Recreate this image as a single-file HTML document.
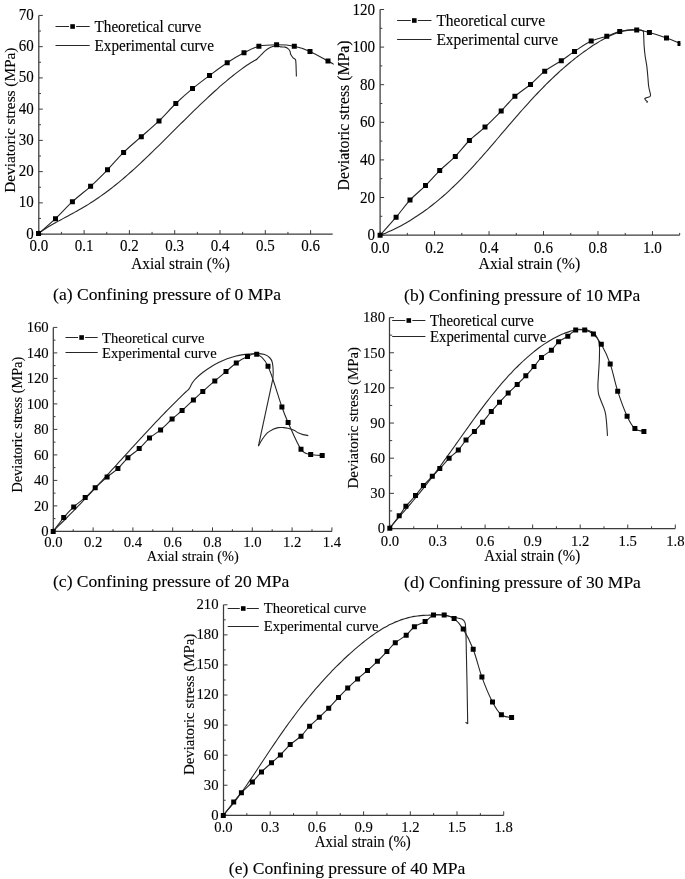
<!DOCTYPE html>
<html><head><meta charset="utf-8"><title>Figure</title>
<style>
html,body{margin:0;padding:0;background:#fff;overflow:hidden;width:685px;height:879px;}
svg{display:block;will-change:transform;}
text{font-family:"Liberation Serif", serif;fill:#000;stroke:#000;stroke-width:0.12px;}
</style></head>
<body>
<svg width="685" height="879" viewBox="0 0 685 879">
<rect width="685" height="879" fill="#fff"/>
<path d="M38.8 15.42 V234.1 H332.7" fill="none" stroke="#3c3c3c" stroke-width="1.25"/>
<path d="M38.8 234.1 v-4 M61.45 234.1 v-2.2 M84.1 234.1 v-4 M106.75 234.1 v-2.2 M129.4 234.1 v-4 M152.05 234.1 v-2.2 M174.7 234.1 v-4 M197.35 234.1 v-2.2 M220 234.1 v-4 M242.65 234.1 v-2.2 M265.3 234.1 v-4 M287.95 234.1 v-2.2 M310.6 234.1 v-4 M38.8 234.1 h4 M38.8 218.48 h2.2 M38.8 202.86 h4 M38.8 187.24 h2.2 M38.8 171.62 h4 M38.8 156 h2.2 M38.8 140.38 h4 M38.8 124.76 h2.2 M38.8 109.14 h4 M38.8 93.52 h2.2 M38.8 77.9 h4 M38.8 62.28 h2.2 M38.8 46.66 h4 M38.8 31.04 h2.2 M38.8 15.42 h4" fill="none" stroke="#3c3c3c" stroke-width="1.0"/>
<text transform="translate(33.7 238.6) scale(1 1.06)" text-anchor="end" font-size="15">0</text>
<text transform="translate(33.7 207.36) scale(1 1.06)" text-anchor="end" font-size="15">10</text>
<text transform="translate(33.7 176.12) scale(1 1.06)" text-anchor="end" font-size="15">20</text>
<text transform="translate(33.7 144.88) scale(1 1.06)" text-anchor="end" font-size="15">30</text>
<text transform="translate(33.7 113.64) scale(1 1.06)" text-anchor="end" font-size="15">40</text>
<text transform="translate(33.7 82.4) scale(1 1.06)" text-anchor="end" font-size="15">50</text>
<text transform="translate(33.7 51.16) scale(1 1.06)" text-anchor="end" font-size="15">60</text>
<text transform="translate(33.7 19.92) scale(1 1.06)" text-anchor="end" font-size="15">70</text>
<text transform="translate(38.8 251.2) scale(1 1.06)" text-anchor="middle" font-size="15">0.0</text>
<text transform="translate(84.1 251.2) scale(1 1.06)" text-anchor="middle" font-size="15">0.1</text>
<text transform="translate(129.4 251.2) scale(1 1.06)" text-anchor="middle" font-size="15">0.2</text>
<text transform="translate(174.7 251.2) scale(1 1.06)" text-anchor="middle" font-size="15">0.3</text>
<text transform="translate(220 251.2) scale(1 1.06)" text-anchor="middle" font-size="15">0.4</text>
<text transform="translate(265.3 251.2) scale(1 1.06)" text-anchor="middle" font-size="15">0.5</text>
<text transform="translate(310.6 251.2) scale(1 1.06)" text-anchor="middle" font-size="15">0.6</text>
<text transform="translate(180.5 269) scale(1 1.06)" text-anchor="middle" font-size="15.3">Axial strain (%)</text>
<text transform="translate(14.6 120.2) rotate(-90) scale(1 1.0)" text-anchor="middle" font-size="15.3">Deviatoric stress (MPa)</text>
<path d="M55.5 26.5 H69.1 M76.1 26.5 H89.7 M55.5 45.5 H89.7" stroke="#262626" stroke-width="1" fill="none"/>
<rect x="70.3" y="24.2" width="4.6" height="4.6" fill="#000"/>
<text transform="translate(94.5 31.6) scale(1 1.06)" font-size="15.2">Theoretical curve</text>
<text transform="translate(94.5 50.6) scale(1 1.06)" font-size="15.2">Experimental curve</text>
<clipPath id="clipa"><rect x="34.8" y="9.42" width="298.9" height="228.68"/></clipPath>
<g clip-path="url(#clipa)" fill="none" stroke="#262626" stroke-width="1.1" stroke-linejoin="round">
<path d="M38.6 233.31 C39.1 232.96 40.6 231.87 41.59 231.18 C42.59 230.49 43.59 229.83 44.59 229.18 C45.58 228.54 46.58 227.91 47.58 227.3 C48.58 226.69 49.57 226.09 50.57 225.51 C51.57 224.92 52.57 224.35 53.57 223.78 C54.56 223.22 55.56 222.66 56.56 222.11 C57.56 221.56 58.55 221.02 59.55 220.48 C60.55 219.94 61.55 219.4 62.55 218.86 C63.54 218.33 64.54 217.8 65.54 217.26 C66.54 216.73 67.53 216.19 68.53 215.65 C69.53 215.12 70.53 214.58 71.52 214.04 C72.52 213.49 73.52 212.95 74.52 212.39 C75.52 211.84 76.51 211.29 77.51 210.72 C78.51 210.16 79.51 209.59 80.5 209.01 C81.5 208.43 82.5 207.85 83.5 207.26 C84.49 206.67 85.49 206.07 86.49 205.46 C87.49 204.85 88.49 204.23 89.48 203.6 C90.48 202.98 91.48 202.34 92.48 201.7 C93.47 201.05 94.47 200.39 95.47 199.73 C96.47 199.06 97.47 198.39 98.46 197.7 C99.46 197.02 100.46 196.32 101.46 195.61 C102.45 194.91 103.45 194.19 104.45 193.46 C105.45 192.74 106.44 192 107.44 191.25 C108.44 190.51 109.44 189.75 110.44 188.98 C111.43 188.21 112.43 187.44 113.43 186.65 C114.43 185.86 115.42 185.07 116.42 184.26 C117.42 183.45 118.42 182.64 119.42 181.81 C120.41 180.99 121.41 180.16 122.41 179.31 C123.41 178.47 124.4 177.62 125.4 176.76 C126.4 175.9 127.4 175.03 128.39 174.15 C129.39 173.28 130.39 172.39 131.39 171.5 C132.39 170.61 133.38 169.71 134.38 168.81 C135.38 167.9 136.38 166.99 137.37 166.07 C138.37 165.15 139.37 164.22 140.37 163.29 C141.36 162.36 142.36 161.42 143.36 160.48 C144.36 159.54 145.36 158.59 146.35 157.64 C147.35 156.69 148.35 155.73 149.35 154.77 C150.34 153.81 151.34 152.84 152.34 151.87 C153.34 150.9 154.34 149.93 155.33 148.95 C156.33 147.98 157.33 147 158.33 146.02 C159.32 145.04 160.32 144.05 161.32 143.07 C162.32 142.08 163.31 141.09 164.31 140.1 C165.31 139.11 166.31 138.12 167.31 137.13 C168.3 136.14 169.3 135.14 170.3 134.15 C171.3 133.16 172.29 132.16 173.29 131.17 C174.29 130.18 175.29 129.18 176.28 128.19 C177.28 127.2 178.28 126.2 179.28 125.21 C180.28 124.22 181.27 123.23 182.27 122.24 C183.27 121.25 184.27 120.26 185.26 119.28 C186.26 118.29 187.26 117.31 188.26 116.33 C189.26 115.35 190.25 114.37 191.25 113.39 C192.25 112.42 193.25 111.45 194.24 110.48 C195.24 109.51 196.24 108.54 197.24 107.58 C198.23 106.62 199.23 105.66 200.23 104.7 C201.23 103.75 202.23 102.8 203.22 101.85 C204.22 100.91 205.22 99.97 206.22 99.03 C207.21 98.1 208.21 97.17 209.21 96.25 C210.21 95.32 211.21 94.4 212.2 93.49 C213.2 92.58 214.2 91.67 215.2 90.77 C216.19 89.87 217.19 88.98 218.19 88.1 C219.19 87.21 220.18 86.33 221.18 85.46 C222.18 84.59 223.18 83.73 224.18 82.88 C225.17 82.03 226.17 81.18 227.17 80.35 C228.17 79.51 229.16 78.69 230.16 77.87 C231.16 77.05 232.16 76.25 233.15 75.45 C234.15 74.66 235.15 73.87 236.15 73.1 C237.15 72.33 238.14 71.57 239.14 70.82 C240.14 70.07 241.14 69.34 242.13 68.61 C243.13 67.89 244.13 67.18 245.13 66.49 C246.13 65.8 247.12 65.12 248.12 64.46 C249.12 63.8 250.12 63.15 251.11 62.52 C252.11 61.89 253.11 61.28 254.11 60.69 C255.1 60.1 255.93 59.94 257.1 58.97 C258.27 58.01 259.75 56.26 261.1 54.9 C262.45 53.54 263.85 51.95 265.2 50.8 C266.55 49.65 267.87 48.73 269.2 48 C270.53 47.27 271.97 46.82 273.2 46.4 C274.43 45.98 275.32 45.42 276.6 45.5 C277.88 45.58 279.5 46.63 280.9 46.9 C282.3 47.17 283.82 46.82 285 47.1 C286.18 47.38 287.17 47.92 288 48.6 C288.83 49.28 289.53 50.2 290 51.2 C290.47 52.2 290.28 53.5 290.8 54.6 C291.32 55.7 292.32 56.93 293.1 57.8 C293.88 58.67 295.02 58.67 295.5 59.8 C295.98 60.93 295.88 62.77 296 64.6 C296.12 66.43 296.13 68.83 296.2 70.8 C296.27 72.77 296.37 75.47 296.4 76.4"/>
<path d="M38.5 233.6 C41.33 231.12 49.85 224.02 55.5 218.7 C61.15 213.38 66.55 207.1 72.4 201.7 C78.25 196.3 84.75 191.62 90.6 186.3 C96.45 180.98 102 175.45 107.5 169.8 C113 164.15 117.97 157.92 123.6 152.4 C129.23 146.88 135.4 141.95 141.3 136.7 C147.2 131.45 153.25 126.43 159 120.9 C164.75 115.37 170.22 108.88 175.8 103.5 C181.38 98.12 186.88 93.27 192.5 88.6 C198.12 83.93 203.72 79.82 209.5 75.5 C215.28 71.18 221.45 66.48 227.2 62.7 C232.95 58.92 238.72 55.53 244 52.8 C249.28 50.07 253.47 47.63 258.9 46.3 C264.33 44.97 270.7 44.82 276.6 44.8 C282.5 44.78 288.73 45.1 294.3 46.2 C299.87 47.3 304.38 48.92 310 51.4 C315.62 53.88 323.67 58.73 328 61.1 C332.33 63.47 334.67 64.85 336 65.6"/>
</g>
<path clip-path="url(#clipa)" d="M36 231.1h5v5h-5zM53 216.2h5v5h-5zM69.9 199.2h5v5h-5zM88.1 183.8h5v5h-5zM105 167.3h5v5h-5zM121.1 149.9h5v5h-5zM138.8 134.2h5v5h-5zM156.5 118.4h5v5h-5zM173.3 101h5v5h-5zM190 86.1h5v5h-5zM207 73h5v5h-5zM224.7 60.2h5v5h-5zM241.5 50.3h5v5h-5zM256.4 43.8h5v5h-5zM274.1 42.3h5v5h-5zM291.8 43.7h5v5h-5zM307.5 48.9h5v5h-5zM325.5 58.6h5v5h-5z" fill="#000"/>
<text transform="translate(53.1 300.4) scale(1 1.01)" font-size="17.5" textLength="227.9" lengthAdjust="spacingAndGlyphs">(a) Confining pressure of 0 MPa</text>
<path d="M380.1 9.5 V235.1 H679.7" fill="none" stroke="#3c3c3c" stroke-width="1.25"/>
<path d="M380.1 235.1 v-4 M407.34 235.1 v-2.2 M434.57 235.1 v-4 M461.81 235.1 v-2.2 M489.04 235.1 v-4 M516.28 235.1 v-2.2 M543.51 235.1 v-4 M570.75 235.1 v-2.2 M597.98 235.1 v-4 M625.22 235.1 v-2.2 M652.45 235.1 v-4 M679.68 235.1 v-2.2 M380.1 235.1 h4 M380.1 216.3 h2.2 M380.1 197.5 h4 M380.1 178.7 h2.2 M380.1 159.9 h4 M380.1 141.1 h2.2 M380.1 122.3 h4 M380.1 103.5 h2.2 M380.1 84.7 h4 M380.1 65.9 h2.2 M380.1 47.1 h4 M380.1 28.3 h2.2 M380.1 9.5 h4" fill="none" stroke="#3c3c3c" stroke-width="1.0"/>
<text transform="translate(375.1 240.1) scale(1 1.06)" text-anchor="end" font-size="15.1">0</text>
<text transform="translate(375.1 202.5) scale(1 1.06)" text-anchor="end" font-size="15.1">20</text>
<text transform="translate(375.1 164.9) scale(1 1.06)" text-anchor="end" font-size="15.1">40</text>
<text transform="translate(375.1 127.3) scale(1 1.06)" text-anchor="end" font-size="15.1">60</text>
<text transform="translate(375.1 89.7) scale(1 1.06)" text-anchor="end" font-size="15.1">80</text>
<text transform="translate(375.1 52.1) scale(1 1.06)" text-anchor="end" font-size="15.1">100</text>
<text transform="translate(375.1 14.5) scale(1 1.06)" text-anchor="end" font-size="15.1">120</text>
<text transform="translate(380.1 252.5) scale(1 1.06)" text-anchor="middle" font-size="15.1">0.0</text>
<text transform="translate(434.57 252.5) scale(1 1.06)" text-anchor="middle" font-size="15.1">0.2</text>
<text transform="translate(489.04 252.5) scale(1 1.06)" text-anchor="middle" font-size="15.1">0.4</text>
<text transform="translate(543.51 252.5) scale(1 1.06)" text-anchor="middle" font-size="15.1">0.6</text>
<text transform="translate(597.98 252.5) scale(1 1.06)" text-anchor="middle" font-size="15.1">0.8</text>
<text transform="translate(652.45 252.5) scale(1 1.06)" text-anchor="middle" font-size="15.1">1.0</text>
<text transform="translate(529.4 268.5) scale(1 1.06)" text-anchor="middle" font-size="15.8">Axial strain (%)</text>
<text transform="translate(349.1 115.5) rotate(-90) scale(1 1.0)" text-anchor="middle" font-size="15.8">Deviatoric stress (MPa)</text>
<path d="M397.1 20.5 H410.8 M417.8 20.5 H431.5 M397.1 39.5 H431.5" stroke="#262626" stroke-width="1" fill="none"/>
<rect x="412" y="18.2" width="4.6" height="4.6" fill="#000"/>
<text transform="translate(436.4 26) scale(1 1.06)" font-size="15.5">Theoretical curve</text>
<text transform="translate(436.4 45) scale(1 1.06)" font-size="15.5">Experimental curve</text>
<clipPath id="clipb"><rect x="376.1" y="3.5" width="304.3" height="235.6"/></clipPath>
<g clip-path="url(#clipb)" fill="none" stroke="#262626" stroke-width="1.1" stroke-linejoin="round">
<path d="M380.5 234.95 C381 234.77 382.51 234.24 383.51 233.85 C384.52 233.47 385.52 233.07 386.53 232.65 C387.53 232.24 388.54 231.8 389.54 231.36 C390.55 230.91 391.55 230.45 392.56 229.98 C393.56 229.51 394.57 229.02 395.57 228.52 C396.58 228.02 397.58 227.51 398.58 226.99 C399.59 226.47 400.59 225.93 401.6 225.39 C402.6 224.84 403.61 224.28 404.61 223.71 C405.62 223.14 406.62 222.56 407.63 221.97 C408.63 221.37 409.64 220.77 410.64 220.16 C411.65 219.54 412.65 218.91 413.66 218.27 C414.66 217.64 415.66 216.99 416.67 216.33 C417.67 215.66 418.68 214.99 419.68 214.31 C420.69 213.62 421.69 212.92 422.7 212.22 C423.7 211.51 424.71 210.79 425.71 210.05 C426.72 209.32 427.72 208.58 428.73 207.82 C429.73 207.06 430.74 206.29 431.74 205.51 C432.74 204.73 433.75 203.93 434.75 203.13 C435.76 202.32 436.76 201.5 437.77 200.67 C438.77 199.83 439.78 198.99 440.78 198.13 C441.79 197.28 442.79 196.41 443.8 195.52 C444.8 194.64 445.81 193.75 446.81 192.84 C447.82 191.93 448.82 191.01 449.82 190.08 C450.83 189.15 451.83 188.2 452.84 187.25 C453.84 186.29 454.85 185.32 455.85 184.34 C456.86 183.36 457.86 182.37 458.87 181.37 C459.87 180.37 460.88 179.35 461.88 178.33 C462.89 177.3 463.89 176.27 464.9 175.22 C465.9 174.18 466.9 173.12 467.91 172.06 C468.91 170.99 469.92 169.92 470.92 168.83 C471.93 167.75 472.93 166.66 473.94 165.56 C474.94 164.46 475.95 163.35 476.95 162.23 C477.96 161.12 478.96 159.99 479.97 158.86 C480.97 157.73 481.98 156.59 482.98 155.45 C483.98 154.31 484.99 153.16 485.99 152.01 C487 150.85 488 149.69 489.01 148.53 C490.01 147.37 491.02 146.2 492.02 145.03 C493.03 143.86 494.03 142.69 495.04 141.52 C496.04 140.34 497.05 139.17 498.05 137.99 C499.06 136.81 500.06 135.63 501.06 134.45 C502.07 133.28 503.07 132.1 504.08 130.92 C505.08 129.74 506.09 128.56 507.09 127.39 C508.1 126.21 509.1 125.04 510.11 123.87 C511.11 122.7 512.12 121.53 513.12 120.36 C514.13 119.2 515.13 118.04 516.14 116.88 C517.14 115.72 518.14 114.57 519.15 113.42 C520.15 112.28 521.16 111.14 522.16 110 C523.17 108.86 524.17 107.73 525.18 106.61 C526.18 105.49 527.19 104.37 528.19 103.26 C529.2 102.15 530.2 101.05 531.21 99.96 C532.21 98.87 533.22 97.78 534.22 96.7 C535.22 95.63 536.23 94.56 537.23 93.5 C538.24 92.44 539.24 91.39 540.25 90.35 C541.25 89.31 542.26 88.28 543.26 87.26 C544.27 86.24 545.27 85.22 546.28 84.22 C547.28 83.22 548.29 82.23 549.29 81.25 C550.3 80.27 551.3 79.3 552.3 78.34 C553.31 77.38 554.31 76.44 555.32 75.5 C556.32 74.56 557.33 73.63 558.33 72.72 C559.34 71.8 560.34 70.9 561.35 70 C562.35 69.11 563.36 68.23 564.36 67.36 C565.37 66.48 566.37 65.62 567.38 64.77 C568.38 63.93 569.38 63.09 570.39 62.26 C571.39 61.43 572.4 60.62 573.4 59.81 C574.41 59.01 575.41 58.21 576.42 57.43 C577.42 56.65 578.43 55.87 579.43 55.11 C580.44 54.35 581.44 53.6 582.45 52.87 C583.45 52.13 584.46 51.4 585.46 50.69 C586.46 49.97 587.47 49.27 588.47 48.58 C589.48 47.89 590.48 47.21 591.49 46.54 C592.49 45.87 593.5 45.22 594.5 44.58 C595.51 43.93 596.51 43.31 597.52 42.69 C598.52 42.08 599.53 41.48 600.53 40.89 C601.54 40.3 602.54 39.73 603.54 39.18 C604.55 38.62 605.55 38.08 606.56 37.56 C607.56 37.04 608.57 36.54 609.57 36.05 C610.58 35.57 611.58 35.1 612.59 34.66 C613.59 34.22 614.6 33.79 615.6 33.4 C616.61 33 617.61 32.63 618.62 32.28 C619.62 31.94 620.62 31.62 621.63 31.34 C622.63 31.05 623.64 30.79 624.64 30.58 C625.65 30.36 626.65 30.17 627.66 30.03 C628.66 29.89 629.67 29.78 630.67 29.72 C631.68 29.67 632.68 29.65 633.69 29.69 C634.69 29.74 635.56 29.92 636.7 29.98 C637.84 30.03 639.53 29.88 640.5 30 C641.47 30.12 642 30.32 642.5 30.7 C643 31.08 643.23 29.82 643.5 32.3 C643.77 34.78 643.83 41.68 644.1 45.6 C644.37 49.52 644.65 52.38 645.1 55.8 C645.55 59.22 646.35 62.68 646.8 66.1 C647.25 69.52 647.48 72.9 647.8 76.3 C648.12 79.7 648.25 83.42 648.7 86.5 C649.15 89.58 650.33 93.12 650.5 94.8 C650.67 96.48 650.27 96.13 649.7 96.6 C649.13 97.07 647.92 97.27 647.1 97.6 C646.28 97.93 645.02 98.15 644.8 98.6 C644.58 99.05 645.37 99.78 645.8 100.3 C646.23 100.82 647.27 101.3 647.4 101.7 C647.53 102.1 646.73 102.53 646.6 102.7"/>
<path d="M380.1 235.2 C382.77 232.2 391.12 223.05 396.1 217.2 C401.08 211.35 405.1 205.37 410 200.1 C414.9 194.83 420.55 190.52 425.5 185.6 C430.45 180.68 434.73 175.47 439.7 170.6 C444.67 165.73 450.35 161.42 455.3 156.4 C460.25 151.38 464.45 145.38 469.4 140.5 C474.35 135.62 479.7 132 485 127.1 C490.3 122.2 496.22 116.23 501.2 111.1 C506.18 105.97 510.02 100.73 514.9 96.3 C519.78 91.87 525.53 88.67 530.5 84.5 C535.47 80.33 539.57 75.27 544.7 71.3 C549.83 67.33 556.33 64.02 561.3 60.7 C566.27 57.38 569.52 54.68 574.5 51.4 C579.48 48.12 585.82 43.53 591.2 41 C596.58 38.47 602.05 37.77 606.8 36.2 C611.55 34.63 614.72 32.65 619.7 31.6 C624.68 30.55 631.75 29.75 636.7 29.9 C641.65 30.05 644.43 31.17 649.4 32.5 C654.37 33.83 661.4 36.08 666.5 37.9 C671.6 39.72 676.08 41.8 680 43.4 C683.92 45 688.33 46.82 690 47.5"/>
</g>
<path clip-path="url(#clipb)" d="M377.6 232.7h5v5h-5zM393.6 214.7h5v5h-5zM407.5 197.6h5v5h-5zM423 183.1h5v5h-5zM437.2 168.1h5v5h-5zM452.8 153.9h5v5h-5zM466.9 138h5v5h-5zM482.5 124.6h5v5h-5zM498.7 108.6h5v5h-5zM512.4 93.8h5v5h-5zM528 82h5v5h-5zM542.2 68.8h5v5h-5zM558.8 58.2h5v5h-5zM572 48.9h5v5h-5zM588.7 38.5h5v5h-5zM604.3 33.7h5v5h-5zM617.2 29.1h5v5h-5zM634.2 27.4h5v5h-5zM646.9 30h5v5h-5zM664 35.4h5v5h-5zM677.5 40.9h5v5h-5z" fill="#000"/>
<text transform="translate(404.1 300.6) scale(1 1.01)" font-size="17.5" textLength="236.2" lengthAdjust="spacingAndGlyphs">(b) Confining pressure of 10 MPa</text>
<path d="M53.3 327.4 V531.4 H331.9" fill="none" stroke="#3c3c3c" stroke-width="1.25"/>
<path d="M53.3 531.4 v-4 M73.2 531.4 v-2.2 M93.1 531.4 v-4 M113 531.4 v-2.2 M132.9 531.4 v-4 M152.8 531.4 v-2.2 M172.7 531.4 v-4 M192.6 531.4 v-2.2 M212.5 531.4 v-4 M232.4 531.4 v-2.2 M252.3 531.4 v-4 M272.2 531.4 v-2.2 M292.1 531.4 v-4 M312 531.4 v-2.2 M331.9 531.4 v-4 M53.3 531.4 h4 M53.3 518.65 h2.2 M53.3 505.9 h4 M53.3 493.15 h2.2 M53.3 480.4 h4 M53.3 467.65 h2.2 M53.3 454.9 h4 M53.3 442.15 h2.2 M53.3 429.4 h4 M53.3 416.65 h2.2 M53.3 403.9 h4 M53.3 391.15 h2.2 M53.3 378.4 h4 M53.3 365.65 h2.2 M53.3 352.9 h4 M53.3 340.15 h2.2 M53.3 327.4 h4" fill="none" stroke="#3c3c3c" stroke-width="1.0"/>
<text transform="translate(48.7 536) scale(1 1.06)" text-anchor="end" font-size="14.7">0</text>
<text transform="translate(48.7 510.5) scale(1 1.06)" text-anchor="end" font-size="14.7">20</text>
<text transform="translate(48.7 485) scale(1 1.06)" text-anchor="end" font-size="14.7">40</text>
<text transform="translate(48.7 459.5) scale(1 1.06)" text-anchor="end" font-size="14.7">60</text>
<text transform="translate(48.7 434) scale(1 1.06)" text-anchor="end" font-size="14.7">80</text>
<text transform="translate(48.7 408.5) scale(1 1.06)" text-anchor="end" font-size="14.7">100</text>
<text transform="translate(48.7 383) scale(1 1.06)" text-anchor="end" font-size="14.7">120</text>
<text transform="translate(48.7 357.5) scale(1 1.06)" text-anchor="end" font-size="14.7">140</text>
<text transform="translate(48.7 332) scale(1 1.06)" text-anchor="end" font-size="14.7">160</text>
<text transform="translate(53.3 546.6) scale(1 1.06)" text-anchor="middle" font-size="14.7">0.0</text>
<text transform="translate(93.1 546.6) scale(1 1.06)" text-anchor="middle" font-size="14.7">0.2</text>
<text transform="translate(132.9 546.6) scale(1 1.06)" text-anchor="middle" font-size="14.7">0.4</text>
<text transform="translate(172.7 546.6) scale(1 1.06)" text-anchor="middle" font-size="14.7">0.6</text>
<text transform="translate(212.5 546.6) scale(1 1.06)" text-anchor="middle" font-size="14.7">0.8</text>
<text transform="translate(252.3 546.6) scale(1 1.06)" text-anchor="middle" font-size="14.7">1.0</text>
<text transform="translate(292.1 546.6) scale(1 1.06)" text-anchor="middle" font-size="14.7">1.2</text>
<text transform="translate(331.9 546.6) scale(1 1.06)" text-anchor="middle" font-size="14.7">1.4</text>
<text transform="translate(192.7 561) scale(1 1.06)" text-anchor="middle" font-size="14.3">Axial strain (%)</text>
<text transform="translate(22.4 424.7) rotate(-90) scale(1 1.0)" text-anchor="middle" font-size="14.3">Deviatoric stress (MPa)</text>
<path d="M65.5 337.5 H78.1 M85.1 337.5 H97.7 M65.5 352.5 H97.7" stroke="#262626" stroke-width="1" fill="none"/>
<rect x="79.3" y="335.2" width="4.6" height="4.6" fill="#000"/>
<text transform="translate(102 342.5) scale(1 1.06)" font-size="14.6">Theoretical curve</text>
<text transform="translate(102 357.5) scale(1 1.06)" font-size="14.6">Experimental curve</text>
<clipPath id="clipc"><rect x="49.3" y="321.4" width="285.7" height="214"/></clipPath>
<g clip-path="url(#clipc)" fill="none" stroke="#262626" stroke-width="1.1" stroke-linejoin="round">
<path d="M53.2 530.99 C53.7 530.51 55.21 529.08 56.22 528.11 C57.22 527.15 58.23 526.17 59.24 525.19 C60.24 524.22 61.25 523.23 62.25 522.24 C63.26 521.25 64.27 520.25 65.27 519.25 C66.28 518.25 67.28 517.24 68.29 516.22 C69.29 515.21 70.3 514.19 71.31 513.17 C72.31 512.14 73.32 511.11 74.32 510.08 C75.33 509.05 76.34 508.01 77.34 506.97 C78.35 505.92 79.35 504.88 80.36 503.83 C81.37 502.78 82.37 501.72 83.38 500.66 C84.38 499.6 85.39 498.54 86.4 497.47 C87.4 496.41 88.41 495.34 89.41 494.27 C90.42 493.19 91.43 492.12 92.43 491.04 C93.44 489.96 94.44 488.88 95.45 487.8 C96.45 486.71 97.46 485.63 98.47 484.54 C99.47 483.45 100.48 482.36 101.48 481.27 C102.49 480.17 103.5 479.08 104.5 477.98 C105.51 476.89 106.51 475.79 107.52 474.69 C108.53 473.59 109.53 472.49 110.54 471.39 C111.54 470.29 112.55 469.18 113.56 468.08 C114.56 466.98 115.57 465.88 116.57 464.77 C117.58 463.67 118.59 462.56 119.59 461.46 C120.6 460.35 121.6 459.25 122.61 458.14 C123.61 457.04 124.62 455.94 125.63 454.83 C126.63 453.73 127.64 452.63 128.64 451.52 C129.65 450.42 130.66 449.32 131.66 448.22 C132.67 447.12 133.67 446.02 134.68 444.92 C135.69 443.83 136.69 442.73 137.7 441.64 C138.7 440.54 139.71 439.45 140.72 438.36 C141.72 437.27 142.73 436.18 143.73 435.1 C144.74 434.01 145.75 432.93 146.75 431.85 C147.76 430.76 148.76 429.69 149.77 428.61 C150.77 427.54 151.78 426.46 152.79 425.4 C153.79 424.33 154.8 423.26 155.8 422.2 C156.81 421.14 157.82 420.08 158.82 419.03 C159.83 417.97 160.83 416.92 161.84 415.87 C162.85 414.83 163.85 413.79 164.86 412.75 C165.86 411.71 166.87 410.68 167.88 409.65 C168.88 408.62 169.89 407.6 170.89 406.58 C171.9 405.56 172.91 404.55 173.91 403.54 C174.92 402.54 175.92 401.53 176.93 400.54 C177.93 399.54 178.94 398.55 179.95 397.57 C180.95 396.58 181.96 395.61 182.96 394.63 C183.97 393.66 184.98 392.7 185.98 391.74 C186.99 390.78 188.03 390.2 189 388.88 C189.97 387.56 190.8 385.4 191.8 383.8 C192.8 382.2 193.13 381.22 195 379.3 C196.87 377.38 200.32 374.4 203 372.3 C205.68 370.2 208.42 368.37 211.1 366.7 C213.78 365.03 216.43 363.62 219.1 362.3 C221.77 360.98 224.42 359.82 227.1 358.8 C229.78 357.78 232.52 356.9 235.2 356.2 C237.88 355.5 240.73 354.97 243.2 354.6 C245.67 354.23 247.75 354.17 250 354 C252.25 353.83 254.27 353.5 256.7 353.6 C259.13 353.7 262.38 353.87 264.6 354.6 C266.82 355.33 268.7 356.63 270 358 C271.3 359.37 271.87 360.42 272.4 362.8 C272.93 365.18 273.13 369.58 273.2 372.3 C273.27 375.02 272.87 377.97 272.8 379.1"/>
<path d="M53.2 531.4 C54.95 529.1 60.28 521.68 63.7 517.6 C67.12 513.52 70.12 510.23 73.7 506.9 C77.28 503.57 81.62 500.8 85.2 497.6 C88.78 494.4 91.55 491.13 95.2 487.7 C98.85 484.27 103.32 480.18 107.1 477 C110.88 473.82 114.43 471.8 117.9 468.6 C121.37 465.4 124.35 461.13 127.9 457.8 C131.45 454.47 135.6 451.88 139.2 448.6 C142.8 445.32 145.93 441.22 149.5 438.1 C153.07 434.98 156.83 433.08 160.6 429.9 C164.37 426.72 168.52 422.23 172.1 419 C175.68 415.77 178.55 413.67 182.1 410.5 C185.65 407.33 189.95 403.18 193.4 400 C196.85 396.82 199.23 394.58 202.8 391.4 C206.37 388.22 210.93 384.2 214.8 380.9 C218.67 377.6 222.42 374.58 226 371.6 C229.58 368.62 232.72 365.5 236.3 363 C239.88 360.5 244.1 358.07 247.5 356.6 C250.9 355.13 253.28 352.6 256.7 354.2 C260.12 355.8 263.8 357.42 268 366.2 C272.2 374.98 278.55 397.53 281.9 406.9 C285.25 416.27 284.92 415.35 288.1 422.4 C291.28 429.45 297.23 443.85 301 449.2 C304.77 454.55 307.17 453.47 310.7 454.5 C314.23 455.53 320.28 455.25 322.2 455.4"/>
<path d="M272.8 379.1 L258.4 446.1"/>
<path d="M258.4 446.1 C259.05 444.97 260.82 441.5 262.3 439.3 C263.78 437.1 265.6 434.52 267.3 432.9 C269 431.28 270.68 430.48 272.5 429.6 C274.32 428.72 276.37 427.93 278.2 427.6 C280.03 427.27 281.9 427.48 283.5 427.6 C285.1 427.72 286.38 427.98 287.8 428.3 C289.22 428.62 290.87 429.12 292 429.5 C293.13 429.88 293.48 430 294.6 430.6 C295.72 431.2 297.3 432.43 298.7 433.1 C300.1 433.77 301.4 434.18 303 434.6 C304.6 435.02 307.42 435.43 308.3 435.6"/>
</g>
<path clip-path="url(#clipc)" d="M50.7 528.9h5v5h-5zM61.2 515.1h5v5h-5zM71.2 504.4h5v5h-5zM82.7 495.1h5v5h-5zM92.7 485.2h5v5h-5zM104.6 474.5h5v5h-5zM115.4 466.1h5v5h-5zM125.4 455.3h5v5h-5zM136.7 446.1h5v5h-5zM147 435.6h5v5h-5zM158.1 427.4h5v5h-5zM169.6 416.5h5v5h-5zM179.6 408h5v5h-5zM190.9 397.5h5v5h-5zM200.3 388.9h5v5h-5zM212.3 378.4h5v5h-5zM223.5 369.1h5v5h-5zM233.8 360.5h5v5h-5zM245 354.1h5v5h-5zM254.2 351.7h5v5h-5zM265.5 363.7h5v5h-5zM279.4 404.4h5v5h-5zM285.6 419.9h5v5h-5zM298.5 446.7h5v5h-5zM308.2 452h5v5h-5zM319.7 452.9h5v5h-5z" fill="#000"/>
<text transform="translate(53 587.3) scale(1 1.01)" font-size="17.5" textLength="236.4" lengthAdjust="spacingAndGlyphs">(c) Confining pressure of 20 MPa</text>
<path d="M389.5 317.6 V528.5 H675.3" fill="none" stroke="#3c3c3c" stroke-width="1.25"/>
<path d="M390 528.5 v-4 M413.77 528.5 v-2.2 M437.55 528.5 v-4 M461.32 528.5 v-2.2 M485.1 528.5 v-4 M508.88 528.5 v-2.2 M532.65 528.5 v-4 M556.42 528.5 v-2.2 M580.2 528.5 v-4 M603.98 528.5 v-2.2 M627.75 528.5 v-4 M651.52 528.5 v-2.2 M675.3 528.5 v-4 M389.5 528.5 h4.5 M389.5 510.93 h2.7 M389.5 493.35 h4.5 M389.5 475.77 h2.7 M389.5 458.2 h4.5 M389.5 440.62 h2.7 M389.5 423.05 h4.5 M389.5 405.48 h2.7 M389.5 387.9 h4.5 M389.5 370.33 h2.7 M389.5 352.75 h4.5 M389.5 335.18 h2.7 M389.5 317.6 h4.5" fill="none" stroke="#3c3c3c" stroke-width="1.0"/>
<text transform="translate(385 533.3) scale(1 1.06)" text-anchor="end" font-size="14.7">0</text>
<text transform="translate(385 498.15) scale(1 1.06)" text-anchor="end" font-size="14.7">30</text>
<text transform="translate(385 463) scale(1 1.06)" text-anchor="end" font-size="14.7">60</text>
<text transform="translate(385 427.85) scale(1 1.06)" text-anchor="end" font-size="14.7">90</text>
<text transform="translate(385 392.7) scale(1 1.06)" text-anchor="end" font-size="14.7">120</text>
<text transform="translate(385 357.55) scale(1 1.06)" text-anchor="end" font-size="14.7">150</text>
<text transform="translate(385 322.4) scale(1 1.06)" text-anchor="end" font-size="14.7">180</text>
<text transform="translate(390 545.5) scale(1 1.06)" text-anchor="middle" font-size="14.7">0.0</text>
<text transform="translate(437.55 545.5) scale(1 1.06)" text-anchor="middle" font-size="14.7">0.3</text>
<text transform="translate(485.1 545.5) scale(1 1.06)" text-anchor="middle" font-size="14.7">0.6</text>
<text transform="translate(532.65 545.5) scale(1 1.06)" text-anchor="middle" font-size="14.7">0.9</text>
<text transform="translate(580.2 545.5) scale(1 1.06)" text-anchor="middle" font-size="14.7">1.2</text>
<text transform="translate(627.75 545.5) scale(1 1.06)" text-anchor="middle" font-size="14.7">1.5</text>
<text transform="translate(675.3 545.5) scale(1 1.06)" text-anchor="middle" font-size="14.7">1.8</text>
<text transform="translate(532.2 561.2) scale(1 1.06)" text-anchor="middle" font-size="14.9">Axial strain (%)</text>
<text transform="translate(357.5 417.7) rotate(-90) scale(1 1.0)" text-anchor="middle" font-size="14.9">Deviatoric stress (MPa)</text>
<path d="M392.2 320.5 H405.3 M412.3 320.5 H425.4 M392.2 336.5 H425.4" stroke="#262626" stroke-width="1" fill="none"/>
<rect x="406.5" y="318.2" width="4.6" height="4.6" fill="#000"/>
<text transform="translate(430 325.5) scale(1 1.06)" font-size="14.8">Theoretical curve</text>
<text transform="translate(430 341.5) scale(1 1.06)" font-size="14.8">Experimental curve</text>
<clipPath id="clipd"><rect x="386" y="311.6" width="294" height="220.9"/></clipPath>
<g clip-path="url(#clipd)" fill="none" stroke="#262626" stroke-width="1.1" stroke-linejoin="round">
<path d="M389.8 528 C390.3 527.41 391.79 525.61 392.79 524.43 C393.79 523.25 394.79 522.08 395.78 520.92 C396.78 519.75 397.78 518.6 398.78 517.45 C399.77 516.29 400.77 515.15 401.77 514 C402.77 512.85 403.76 511.7 404.76 510.54 C405.76 509.39 406.76 508.23 407.75 507.07 C408.75 505.91 409.75 504.74 410.75 503.57 C411.74 502.39 412.74 501.21 413.74 500.02 C414.74 498.83 415.73 497.64 416.73 496.43 C417.73 495.22 418.73 494 419.72 492.78 C420.72 491.55 421.72 490.31 422.72 489.06 C423.71 487.82 424.71 486.56 425.71 485.29 C426.71 484.02 427.7 482.74 428.7 481.45 C429.7 480.16 430.7 478.87 431.69 477.56 C432.69 476.25 433.69 474.93 434.69 473.6 C435.68 472.27 436.68 470.93 437.68 469.59 C438.68 468.24 439.67 466.89 440.67 465.53 C441.67 464.17 442.67 462.8 443.66 461.42 C444.66 460.05 445.66 458.67 446.66 457.28 C447.65 455.89 448.65 454.5 449.65 453.11 C450.65 451.71 451.64 450.31 452.64 448.91 C453.64 447.51 454.64 446.1 455.63 444.69 C456.63 443.29 457.63 441.88 458.63 440.47 C459.62 439.06 460.62 437.66 461.62 436.25 C462.62 434.84 463.61 433.44 464.61 432.04 C465.61 430.64 466.61 429.24 467.6 427.84 C468.6 426.45 469.6 425.05 470.6 423.67 C471.59 422.28 472.59 420.9 473.59 419.53 C474.59 418.16 475.58 416.79 476.58 415.43 C477.58 414.07 478.58 412.72 479.57 411.38 C480.57 410.04 481.57 408.7 482.57 407.38 C483.56 406.06 484.56 404.74 485.56 403.44 C486.56 402.14 487.55 400.85 488.55 399.57 C489.55 398.29 490.54 397.02 491.54 395.77 C492.54 394.52 493.54 393.28 494.53 392.05 C495.53 390.82 496.53 389.61 497.53 388.41 C498.52 387.21 499.52 386.02 500.52 384.85 C501.52 383.68 502.51 382.53 503.51 381.39 C504.51 380.25 505.51 379.12 506.5 378.02 C507.5 376.91 508.5 375.81 509.5 374.74 C510.49 373.66 511.49 372.6 512.49 371.56 C513.49 370.51 514.48 369.49 515.48 368.48 C516.48 367.47 517.48 366.47 518.47 365.5 C519.47 364.52 520.47 363.56 521.47 362.62 C522.46 361.68 523.46 360.75 524.46 359.84 C525.46 358.94 526.45 358.05 527.45 357.17 C528.45 356.3 529.45 355.44 530.44 354.61 C531.44 353.77 532.44 352.95 533.44 352.15 C534.43 351.34 535.43 350.56 536.43 349.79 C537.43 349.02 538.42 348.27 539.42 347.54 C540.42 346.81 541.42 346.1 542.41 345.41 C543.41 344.71 544.41 344.04 545.41 343.38 C546.4 342.72 547.4 342.09 548.4 341.47 C549.4 340.85 550.39 340.25 551.39 339.67 C552.39 339.09 553.39 338.53 554.38 338 C555.38 337.46 556.38 336.94 557.38 336.44 C558.37 335.95 559.37 335.48 560.37 335.03 C561.37 334.58 562.36 334.15 563.36 333.75 C564.36 333.35 565.36 332.97 566.35 332.62 C567.35 332.27 568.35 331.94 569.35 331.64 C570.34 331.35 571.34 331.08 572.34 330.84 C573.34 330.61 574.33 330.4 575.33 330.23 C576.33 330.06 577.33 329.92 578.32 329.82 C579.32 329.72 580.32 329.65 581.32 329.63 C582.31 329.6 583.31 329.62 584.31 329.68 C585.31 329.74 585.9 329.57 587.3 330 C588.7 330.44 591.23 331.35 592.7 332.3 C594.17 333.25 595.07 334.12 596.1 335.7 C597.13 337.28 598.33 339.87 598.9 341.8 C599.47 343.73 599.43 344.12 599.5 347.3 C599.57 350.48 599.47 356.37 599.3 360.9 C599.13 365.43 598.73 370.4 598.5 374.5 C598.27 378.6 597.9 382.32 597.9 385.5 C597.9 388.68 598 391.1 598.5 393.6 C599 396.1 599.82 397.53 600.9 400.5 C601.98 403.47 604.08 408 605 411.4 C605.92 414.8 605.98 416.82 606.4 420.9 C606.82 424.98 607.32 433.4 607.5 435.9"/>
<path d="M389.8 528.2 C391.37 526.13 396.52 519.47 399.2 515.8 C401.88 512.13 403.18 509.58 405.9 506.2 C408.62 502.82 412.58 498.93 415.5 495.5 C418.42 492.07 420.6 488.8 423.4 485.6 C426.2 482.4 429.57 479.13 432.3 476.3 C435.03 473.47 437 471.6 439.8 468.6 C442.6 465.6 446.02 461.38 449.1 458.3 C452.18 455.22 455.48 453.13 458.3 450.1 C461.12 447.07 463.32 443.18 466 440.1 C468.68 437.02 471.63 434.58 474.4 431.6 C477.17 428.62 479.78 425.55 482.6 422.2 C485.42 418.85 488.48 414.82 491.3 411.5 C494.12 408.18 496.68 405.37 499.5 402.3 C502.32 399.23 505.25 396.07 508.2 393.1 C511.15 390.13 514.27 387.38 517.2 384.5 C520.13 381.62 523 378.78 525.8 375.8 C528.6 372.82 531.38 369.67 534 366.6 C536.62 363.53 538.6 360.13 541.5 357.4 C544.4 354.67 548.55 352.8 551.4 350.2 C554.25 347.6 555.87 344.12 558.6 341.8 C561.33 339.48 564.95 338.28 567.8 336.3 C570.65 334.32 572.88 330.97 575.7 329.9 C578.52 328.83 581.75 329.2 584.7 329.9 C587.65 330.6 590.63 331.7 593.4 334.1 C596.17 336.5 598.5 339.33 601.3 344.3 C604.1 349.27 607.47 356.08 610.2 363.9 C612.93 371.72 614.88 382.48 617.7 391.2 C620.52 399.92 624.23 409.97 627.1 416.2 C629.97 422.43 632.1 426.07 634.9 428.6 C637.7 431.13 642.4 430.93 643.9 431.4"/>
</g>
<path clip-path="url(#clipd)" d="M387.3 525.7h5v5h-5zM396.7 513.3h5v5h-5zM403.4 503.7h5v5h-5zM413 493h5v5h-5zM420.9 483.1h5v5h-5zM429.8 473.8h5v5h-5zM437.3 466.1h5v5h-5zM446.6 455.8h5v5h-5zM455.8 447.6h5v5h-5zM463.5 437.6h5v5h-5zM471.9 429.1h5v5h-5zM480.1 419.7h5v5h-5zM488.8 409h5v5h-5zM497 399.8h5v5h-5zM505.7 390.6h5v5h-5zM514.7 382h5v5h-5zM523.3 373.3h5v5h-5zM531.5 364.1h5v5h-5zM539 354.9h5v5h-5zM548.9 347.7h5v5h-5zM556.1 339.3h5v5h-5zM565.3 333.8h5v5h-5zM573.2 327.4h5v5h-5zM582.2 327.4h5v5h-5zM590.9 331.6h5v5h-5zM598.8 341.8h5v5h-5zM607.7 361.4h5v5h-5zM615.2 388.7h5v5h-5zM624.6 413.7h5v5h-5zM632.4 426.1h5v5h-5zM641.4 428.9h5v5h-5z" fill="#000"/>
<text transform="translate(404.1 587.8) scale(1 1.01)" font-size="17.5" textLength="236.8" lengthAdjust="spacingAndGlyphs">(d) Confining pressure of 30 MPa</text>
<path d="M223.5 604.81 V815.3 H503.7" fill="none" stroke="#3c3c3c" stroke-width="1.25"/>
<path d="M223.5 815.3 v-4 M246.85 815.3 v-2.2 M270.2 815.3 v-4 M293.55 815.3 v-2.2 M316.9 815.3 v-4 M340.25 815.3 v-2.2 M363.6 815.3 v-4 M386.95 815.3 v-2.2 M410.3 815.3 v-4 M433.65 815.3 v-2.2 M457 815.3 v-4 M480.35 815.3 v-2.2 M503.7 815.3 v-4 M223.5 815.3 h4 M223.5 800.26 h2.2 M223.5 785.23 h4 M223.5 770.19 h2.2 M223.5 755.16 h4 M223.5 740.12 h2.2 M223.5 725.09 h4 M223.5 710.05 h2.2 M223.5 695.02 h4 M223.5 679.98 h2.2 M223.5 664.95 h4 M223.5 649.91 h2.2 M223.5 634.88 h4 M223.5 619.84 h2.2 M223.5 604.81 h4" fill="none" stroke="#3c3c3c" stroke-width="1.0"/>
<text transform="translate(218.5 819.7) scale(1 1.06)" text-anchor="end" font-size="14.7">0</text>
<text transform="translate(218.5 789.63) scale(1 1.06)" text-anchor="end" font-size="14.7">30</text>
<text transform="translate(218.5 759.56) scale(1 1.06)" text-anchor="end" font-size="14.7">60</text>
<text transform="translate(218.5 729.49) scale(1 1.06)" text-anchor="end" font-size="14.7">90</text>
<text transform="translate(218.5 699.42) scale(1 1.06)" text-anchor="end" font-size="14.7">120</text>
<text transform="translate(218.5 669.35) scale(1 1.06)" text-anchor="end" font-size="14.7">150</text>
<text transform="translate(218.5 639.28) scale(1 1.06)" text-anchor="end" font-size="14.7">180</text>
<text transform="translate(218.5 609.21) scale(1 1.06)" text-anchor="end" font-size="14.7">210</text>
<text transform="translate(223.5 832) scale(1 1.06)" text-anchor="middle" font-size="14.7">0.0</text>
<text transform="translate(270.2 832) scale(1 1.06)" text-anchor="middle" font-size="14.7">0.3</text>
<text transform="translate(316.9 832) scale(1 1.06)" text-anchor="middle" font-size="14.7">0.6</text>
<text transform="translate(363.6 832) scale(1 1.06)" text-anchor="middle" font-size="14.7">0.9</text>
<text transform="translate(410.3 832) scale(1 1.06)" text-anchor="middle" font-size="14.7">1.2</text>
<text transform="translate(457 832) scale(1 1.06)" text-anchor="middle" font-size="14.7">1.5</text>
<text transform="translate(503.7 832) scale(1 1.06)" text-anchor="middle" font-size="14.7">1.8</text>
<text transform="translate(362.8 847) scale(1 1.06)" text-anchor="middle" font-size="14.9">Axial strain (%)</text>
<text transform="translate(193.8 704.4) rotate(-90) scale(1 1.0)" text-anchor="middle" font-size="14.9">Deviatoric stress (MPa)</text>
<path d="M227.7 608.5 H239.75 M246.75 608.5 H258.8 M227.7 626.5 H258.8" stroke="#262626" stroke-width="1" fill="none"/>
<rect x="240.95" y="606.2" width="4.6" height="4.6" fill="#000"/>
<text transform="translate(263.8 613) scale(1 1.06)" font-size="14.6">Theoretical curve</text>
<text transform="translate(263.8 631) scale(1 1.06)" font-size="14.6">Experimental curve</text>
<clipPath id="clipe"><rect x="219.5" y="598.81" width="300.5" height="220.49"/></clipPath>
<g clip-path="url(#clipe)" fill="none" stroke="#262626" stroke-width="1.1" stroke-linejoin="round">
<path d="M223.4 814.64 C223.9 814.12 225.39 812.59 226.38 811.51 C227.38 810.43 228.37 809.3 229.37 808.14 C230.36 806.98 231.36 805.78 232.35 804.55 C233.35 803.32 234.34 802.06 235.34 800.77 C236.33 799.49 237.32 798.17 238.32 796.83 C239.31 795.49 240.31 794.13 241.3 792.75 C242.3 791.37 243.29 789.97 244.29 788.55 C245.28 787.14 246.28 785.7 247.27 784.26 C248.26 782.81 249.26 781.35 250.25 779.89 C251.25 778.42 252.24 776.94 253.24 775.46 C254.23 773.98 255.23 772.48 256.22 770.99 C257.22 769.5 258.21 768 259.21 766.5 C260.2 765 261.19 763.5 262.19 762 C263.18 760.5 264.18 758.99 265.17 757.5 C266.17 756 267.16 754.5 268.16 753.01 C269.15 751.52 270.15 750.04 271.14 748.56 C272.14 747.08 273.13 745.6 274.12 744.13 C275.12 742.67 276.11 741.21 277.11 739.76 C278.1 738.3 279.1 736.86 280.09 735.43 C281.09 733.99 282.08 732.57 283.08 731.16 C284.07 729.74 285.06 728.34 286.06 726.94 C287.05 725.55 288.05 724.17 289.04 722.8 C290.04 721.43 291.03 720.07 292.03 718.72 C293.02 717.38 294.02 716.04 295.01 714.72 C296.01 713.39 297 712.08 297.99 710.78 C298.99 709.48 299.98 708.2 300.98 706.92 C301.97 705.65 302.97 704.39 303.96 703.14 C304.96 701.89 305.95 700.65 306.95 699.43 C307.94 698.2 308.94 696.99 309.93 695.79 C310.92 694.59 311.92 693.4 312.91 692.22 C313.91 691.05 314.9 689.88 315.9 688.73 C316.89 687.58 317.89 686.44 318.88 685.31 C319.88 684.18 320.87 683.06 321.86 681.95 C322.86 680.85 323.85 679.75 324.85 678.67 C325.84 677.59 326.84 676.51 327.83 675.45 C328.83 674.39 329.82 673.34 330.82 672.3 C331.81 671.26 332.81 670.23 333.8 669.22 C334.79 668.2 335.79 667.19 336.78 666.2 C337.78 665.2 338.77 664.21 339.77 663.24 C340.76 662.26 341.76 661.3 342.75 660.35 C343.75 659.39 344.74 658.45 345.74 657.52 C346.73 656.59 347.72 655.67 348.72 654.76 C349.71 653.85 350.71 652.95 351.7 652.06 C352.7 651.17 353.69 650.3 354.69 649.43 C355.68 648.57 356.68 647.72 357.67 646.88 C358.66 646.04 359.66 645.21 360.65 644.39 C361.65 643.58 362.64 642.77 363.64 641.98 C364.63 641.19 365.63 640.42 366.62 639.65 C367.62 638.89 368.61 638.14 369.61 637.4 C370.6 636.67 371.59 635.95 372.59 635.24 C373.58 634.54 374.58 633.85 375.57 633.17 C376.57 632.5 377.56 631.84 378.56 631.2 C379.55 630.56 380.55 629.93 381.54 629.33 C382.54 628.72 383.53 628.13 384.52 627.56 C385.52 626.99 386.51 626.43 387.51 625.9 C388.5 625.36 389.5 624.85 390.49 624.35 C391.49 623.85 392.48 623.38 393.48 622.92 C394.47 622.47 395.46 622.03 396.46 621.62 C397.45 621.2 398.45 620.81 399.44 620.43 C400.44 620.06 401.43 619.71 402.43 619.38 C403.42 619.05 404.42 618.74 405.41 618.45 C406.41 618.16 407.4 617.89 408.39 617.64 C409.39 617.4 410.38 617.17 411.38 616.97 C412.37 616.76 413.37 616.58 414.36 616.41 C415.36 616.24 416.35 616.1 417.35 615.97 C418.34 615.84 419.34 615.73 420.33 615.63 C421.32 615.54 422.32 615.46 423.31 615.4 C424.31 615.33 425.3 615.28 426.3 615.24 C427.29 615.2 428.29 615.18 429.28 615.15 C430.28 615.13 431.27 615.12 432.26 615.11 C433.26 615.1 434.25 615.09 435.25 615.08 C436.24 615.07 437.24 615.06 438.23 615.04 C439.23 615.02 440.22 615 441.22 614.96 C442.21 614.92 442.74 614.54 444.2 614.79 C445.66 615.05 448.33 616.08 450 616.5 C451.67 616.92 452.22 616.87 454.2 617.3 C456.18 617.73 460.08 618.18 461.9 619.1 C463.72 620.02 464.43 620.52 465.1 622.8 C465.77 625.08 465.68 627.48 465.9 632.8 C466.12 638.12 466.22 646.5 466.4 654.7 C466.58 662.9 466.78 670.47 467 682 C467.22 693.53 467.58 716.92 467.7 723.9"/>
<path d="M223.3 815.4 C225.03 813.18 230.68 805.88 233.7 802.1 C236.72 798.32 238.28 796.05 241.4 792.7 C244.52 789.35 249.05 785.47 252.4 782 C255.75 778.53 258.32 775.1 261.5 771.9 C264.68 768.7 268.35 765.63 271.5 762.8 C274.65 759.97 277.28 757.93 280.4 754.9 C283.52 751.87 286.77 747.72 290.2 744.6 C293.63 741.48 297.77 739.27 301 736.2 C304.23 733.13 306.55 729.35 309.6 726.2 C312.65 723.05 316.12 720.3 319.3 717.3 C322.48 714.3 325.5 711.5 328.7 708.2 C331.9 704.9 335.33 700.85 338.5 697.5 C341.67 694.15 344.52 691.2 347.7 688.1 C350.88 685 354.3 681.83 357.6 678.9 C360.9 675.97 364.2 673.43 367.5 670.5 C370.8 667.57 374.17 664.45 377.4 661.3 C380.63 658.15 383.92 654.7 386.9 651.6 C389.88 648.5 392.08 645.43 395.3 642.7 C398.52 639.97 403.02 637.85 406.2 635.2 C409.38 632.55 411.25 629.07 414.4 626.8 C417.55 624.53 421.92 623.55 425.1 621.6 C428.28 619.65 430.32 616.2 433.5 615.1 C436.68 614 440.77 614.42 444.2 615 C447.63 615.58 450.93 616.25 454.1 618.6 C457.27 620.95 460.02 624 463.2 629.1 C466.38 634.2 470.08 641.2 473.2 649.2 C476.32 657.2 478.68 668.3 481.9 677.1 C485.12 685.9 489.25 695.72 492.5 702 C495.75 708.28 498.22 712.22 501.4 714.8 C504.58 717.38 509.9 717.05 511.6 717.5"/>
<path d="M467.7 723.9 L465.6 722.3"/>
</g>
<path clip-path="url(#clipe)" d="M220.8 812.9h5v5h-5zM231.2 799.6h5v5h-5zM238.9 790.2h5v5h-5zM249.9 779.5h5v5h-5zM259 769.4h5v5h-5zM269 760.3h5v5h-5zM277.9 752.4h5v5h-5zM287.7 742.1h5v5h-5zM298.5 733.7h5v5h-5zM307.1 723.7h5v5h-5zM316.8 714.8h5v5h-5zM326.2 705.7h5v5h-5zM336 695h5v5h-5zM345.2 685.6h5v5h-5zM355.1 676.4h5v5h-5zM365 668h5v5h-5zM374.9 658.8h5v5h-5zM384.4 649.1h5v5h-5zM392.8 640.2h5v5h-5zM403.7 632.7h5v5h-5zM411.9 624.3h5v5h-5zM422.6 619.1h5v5h-5zM431 612.6h5v5h-5zM441.7 612.5h5v5h-5zM451.6 616.1h5v5h-5zM460.7 626.6h5v5h-5zM470.7 646.7h5v5h-5zM479.4 674.6h5v5h-5zM490 699.5h5v5h-5zM498.9 712.3h5v5h-5zM509.1 715h5v5h-5z" fill="#000"/>
<text transform="translate(228.8 873.9) scale(1 1.01)" font-size="17.5" textLength="236.6" lengthAdjust="spacingAndGlyphs">(e) Confining pressure of 40 MPa</text>
</svg>
</body></html>
